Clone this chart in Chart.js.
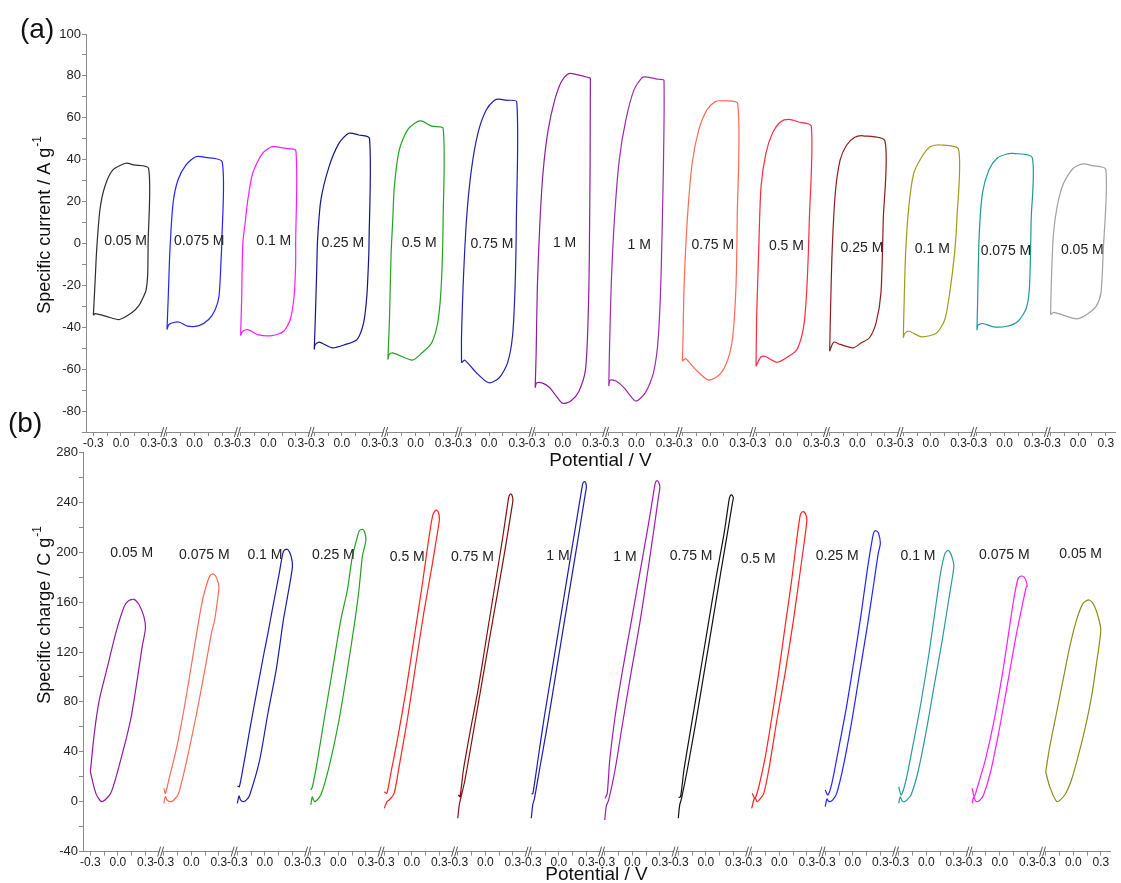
<!DOCTYPE html>
<html>
<head>
<meta charset="utf-8">
<script src="https://cdn.jsdelivr.net/npm/chart.js@4.4.1/dist/chart.umd.min.js"></script>
<style>
  html, body { margin: 0; padding: 0; background: #fff; overflow: hidden; }
  #wrap { position: relative; width: 1121px; height: 883px; }
  canvas { position: absolute; left: 0; }
  #cvA { top: 0; }
  #cvB { top: 440px; }
  .tag { position: absolute; font-family: "Liberation Sans", Arial, sans-serif; font-size: 28px; line-height: 28px; color: #111; }
</style>
</head>
<body>
<div id="wrap">
  <canvas id="cvA" width="1121" height="472"></canvas>
  <canvas id="cvB" width="1121" height="450"></canvas>
  <div class="tag" style="left:20px; top:15px;">(a)</div>
  <div class="tag" style="left:8px; top:409px;">(b)</div>
</div>
<script>
const FONT = '"Liberation Sans", Arial, sans-serif';

// concentration of each panel, left to right
const concLabels = ['0.05 M', '0.075 M', '0.1 M', '0.25 M', '0.5 M', '0.75 M', '1 M',
                    '1 M', '0.75 M', '0.5 M', '0.25 M', '0.1 M', '0.075 M', '0.05 M'];

// each panel covers -0.3..0.3 V, panels are laid side by side on a broken axis
const panelStep = 0.8;
const xTickSteps = [-0.3, -0.15, 0, 0.15, 0.3];

// (a) cyclic voltammograms: potential (V) and specific current (A/g)
const cvPotential = [
  [-0.30,-0.282,-0.264,-0.229,-0.176,-0.088,0.053,0.141,0.30,0.295,0.29,0.274,0.247,0.194,0.12,-0.017,-0.158,-0.229,-0.282,-0.30],
  [-0.30,-0.286,-0.268,-0.234,-0.181,-0.093,0.013,0.118,0.30,0.295,0.286,0.265,0.223,0.153,0.047,-0.076,-0.163,-0.216,-0.279,-0.30],
  [-0.30,-0.289,-0.276,-0.247,-0.222,-0.169,-0.063,0.043,0.186,0.30,0.298,0.298,0.281,0.239,0.168,0.043,-0.116,-0.222,-0.279,-0.30],
  [-0.30,-0.289,-0.273,-0.264,-0.228,-0.139,-0.032,0.075,0.182,0.30,0.295,0.289,0.271,0.236,0.164,0.04,-0.104,-0.246,-0.289,-0.30],
  [-0.30,-0.283,-0.265,-0.247,-0.23,-0.177,-0.088,0.018,0.071,0.177,0.30,0.30,0.283,0.247,0.177,0.071,-0.035,-0.247,-0.286,-0.30],
  [-0.30,-0.30,-0.283,-0.246,-0.193,-0.122,-0.032,0.057,0.11,0.182,0.30,0.296,0.282,0.254,0.2,0.11,-0.004,-0.139,-0.264,-0.30],
  [-0.30,-0.289,-0.276,-0.247,-0.212,-0.159,-0.088,-0.017,0.052,0.105,0.282,0.30,0.289,0.275,0.247,0.176,0.088,-0.001,-0.07,-0.141,-0.212,-0.282,-0.30],
  [-0.30,-0.293,-0.274,-0.239,-0.186,-0.115,-0.027,0.062,0.098,0.239,0.30,0.274,0.239,0.186,0.098,-0.009,-0.133,-0.221,-0.285,-0.30],
  [-0.30,-0.293,-0.282,-0.247,-0.194,-0.123,-0.035,0.053,0.123,0.30,0.295,0.282,0.247,0.194,0.106,-0.017,-0.158,-0.264,-0.30],
  [-0.30,-0.294,-0.272,-0.246,-0.193,-0.122,-0.032,0.057,0.164,0.30,0.279,0.253,0.218,0.146,0.057,-0.069,-0.193,-0.246,-0.30],
  [-0.30,-0.293,-0.274,-0.239,-0.186,-0.115,-0.027,0.062,0.30,0.282,0.257,0.204,0.133,0.045,-0.045,-0.186,-0.257,-0.30],
  [-0.30,-0.294,-0.275,-0.24,-0.187,-0.098,-0.009,0.097,0.30,0.282,0.257,0.204,0.151,0.062,-0.098,-0.24,-0.286,-0.30],
  [-0.30,-0.293,-0.276,-0.24,-0.17,-0.081,0.025,0.095,0.30,0.289,0.271,0.237,0.148,0.025,-0.117,-0.24,-0.29,-0.30],
  [-0.30,-0.293,-0.271,-0.229,-0.159,-0.053,0.052,0.15,0.30,0.271,0.247,0.194,0.088,-0.017,-0.265,-0.30]
];
const cvCurrent = [
  [-34.3,-18.9,-3.0,16.0,27.1,35.1,38.3,37.5,35.9,0,-15,-22,-25.2,-29.7,-33,-36.3,-34.8,-34,-33.5,-34.3],
  [-41.1,-25.2,-3.0,19.2,30.3,37.5,41.4,41.1,39.0,0,-9.3,-25.2,-31.6,-36.3,-39.2,-39.5,-37.6,-37.6,-38.7,-41.1],
  [-44.0,-26.8,0,11.3,20.8,33.5,43.0,46.2,45.4,44.3,0,-9.3,-25.2,-36.3,-41.9,-44.0,-43.5,-41.1,-42.0,-44.0],
  [-50.6,-36.3,-12.5,1.8,20.8,36.7,47.8,52.6,51.8,50.2,0,-9.3,-25.2,-37.9,-45.9,-48.2,-49.8,-47.1,-48.2,-50.6],
  [-55.4,-36.3,-4.6,11.3,27.1,44.6,54.1,58.1,58.4,56.0,55.0,11.3,-17.3,-36.3,-47.4,-52.2,-55.7,-52.2,-53,-55.4],
  [-57.0,-44.3,-20.5,11.3,35.1,52.6,63.7,68.4,68.9,68.4,67.6,11.3,-20.5,-44.3,-57.0,-64.1,-66.5,-61.7,-55.7,-57.0],
  [-68.9,-52.2,-20.5,11.3,35.1,54.1,68.4,77.1,80.8,81.1,79.2,78.8,-4.6,-36.3,-60.1,-70.5,-75.2,-76.3,-72.9,-68.9,-66.8,-66.5,-68.9],
  [-68.1,-52.2,-20.5,11.3,39.9,58.9,73.2,79.2,79.5,78.4,77.9,-4.6,-44.3,-61.7,-71.2,-75.2,-68.9,-65.7,-65.2,-68.1],
  [-56.2,-44.3,-20.5,11.3,38.3,54.1,63.7,67.6,68.1,66.9,11.3,-20.5,-44.3,-55.4,-62.5,-65.2,-60.1,-55.0,-56.2],
  [-58.6,-36.3,-4.6,27.1,43.0,52.6,58.1,59.2,58.0,56.0,11.3,-20.5,-39.5,-50.6,-53.8,-56.7,-54.1,-54.1,-58.6],
  [-51.4,-36.3,-4.6,24.0,39.9,47.0,50.7,51.4,49.0,11.3,-23.6,-37.9,-45.0,-47.4,-49.8,-48.2,-47.1,-51.4],
  [-45.0,-33.1,-4.6,17.6,33.5,41.4,46.2,47.0,45.0,11.3,-4.6,-23.6,-36.3,-42.7,-44.6,-41.9,-43.0,-45.0],
  [-41.4,-28.4,3.3,24.0,35.1,40.7,42.7,43.0,41.1,11.3,-20.5,-30.8,-37.1,-39.5,-39.8,-38.2,-39.1,-41.4],
  [-34.0,-20.5,3.3,17.6,28.8,35.9,38.0,37.2,35.4,-4.6,-23.6,-30.0,-34.0,-36.0,-32.9,-34.0]
];

// (b) charge loops: potential (V) and specific charge (C/g)
const qPotential = [
  [-0.30,-0.24,-0.175,-0.078,0.03,0.138,0.21,0.264,0.30,0.283,0.232,0.175,0.113,0.067,-0.024,-0.113,-0.203,-0.257,-0.30],
  [-0.30,-0.283,-0.265,-0.229,-0.19,-0.139,-0.05,0.057,0.146,0.218,0.253,0.289,0.30,0.276,0.242,0.207,0.182,0.129,0.081,0.021,-0.069,-0.158,-0.246,-0.283,-0.30],
  [-0.30,-0.281,-0.265,-0.235,-0.2,-0.165,-0.057,0.033,0.123,0.201,0.24,0.30,0.284,0.248,0.214,0.195,0.156,0.087,0.033,-0.01,-0.092,-0.165,-0.235,-0.278,-0.30],
  [-0.30,-0.284,-0.267,-0.253,-0.191,-0.101,0.007,0.098,0.181,0.224,0.261,0.30,0.286,0.261,0.226,0.207,0.152,0.098,0.026,-0.064,-0.156,-0.227,-0.282,-0.30],
  [-0.30,-0.272,-0.246,-0.193,-0.139,-0.05,0.039,0.129,0.218,0.289,0.30,0.287,0.264,0.228,0.182,0.11,0.021,-0.069,-0.158,-0.229,-0.272,-0.30],
  [-0.30,-0.284,-0.268,-0.222,-0.133,-0.045,0.043,0.132,0.22,0.284,0.30,0.289,0.273,0.258,0.249,0.185,0.096,0.008,-0.08,-0.169,-0.239,-0.276,-0.295],
  [-0.30,-0.284,-0.265,-0.211,-0.121,-0.032,0.057,0.147,0.225,0.289,0.30,0.293,0.282,0.263,0.254,0.2,0.11,0.021,-0.068,-0.158,-0.228,-0.282,-0.297],
  [-0.30,-0.283,-0.257,-0.188,-0.112,-0.015,0.081,0.165,0.234,0.285,0.30,0.288,0.273,0.254,0.242,0.177,0.081,-0.015,-0.112,-0.188,-0.246,-0.273,-0.297],
  [-0.30,-0.284,-0.264,-0.202,-0.111,-0.02,0.071,0.161,0.235,0.289,0.30,0.292,0.281,0.265,0.253,0.199,0.107,0.016,-0.074,-0.166,-0.238,-0.275,-0.297],
  [-0.30,-0.278,-0.262,-0.241,-0.209,-0.169,-0.115,-0.026,0.063,0.154,0.225,0.279,0.30,0.286,0.261,0.238,0.225,0.189,0.135,0.063,-0.008,-0.08,-0.152,-0.223,-0.266,-0.295],
  [-0.30,-0.282,-0.266,-0.247,-0.218,-0.175,-0.104,-0.015,0.074,0.163,0.234,0.277,0.30,0.279,0.252,0.231,0.217,0.163,0.092,0.02,-0.068,-0.157,-0.228,-0.271,-0.30],
  [-0.30,-0.284,-0.262,-0.238,-0.209,-0.166,-0.094,-0.005,0.084,0.174,0.244,0.291,0.30,0.273,0.244,0.22,0.198,0.155,0.102,0.03,-0.059,-0.148,-0.22,-0.273,-0.30],
  [-0.30,-0.284,-0.264,-0.242,-0.213,-0.177,-0.104,-0.013,0.079,0.169,0.242,0.289,0.30,0.273,0.242,0.213,0.194,0.151,0.096,0.024,-0.068,-0.158,-0.242,-0.278,-0.30],
  [-0.30,-0.256,-0.177,-0.093,-0.02,0.052,0.125,0.199,0.253,0.30,0.271,0.224,0.172,0.107,0.035,-0.038,-0.111,-0.183,-0.256,-0.30]
];
const qCharge = [
  [24.0,6.7,0,6.7,33.4,65.5,97.6,124.3,139.0,148.3,157.7,162.2,160.9,156.3,135.0,108.2,81.5,54.8,24.0],
  [-1.3,4.0,1.4,0,1.4,6.7,33.4,70.9,105.6,135.0,145.6,164.3,172.3,179.2,182.5,181.7,177.7,164.3,145.6,119.0,78.9,44.1,17.4,6.7,10.7],
  [-1.3,4.6,1.4,0,1.4,5.4,33.4,70.9,105.6,145.6,161.7,188.4,197,202.3,201.8,199.1,183.1,156.3,135.0,119.0,86.9,57.5,28.1,12.0,12.6],
  [-2.6,3.8,1,0,5.4,28.1,65.5,105.6,145.6,169.7,196.4,209.8,216.2,218.4,217,212.4,196.4,169.7,145.6,105.6,65.5,33.4,12.0,9.4],
  [-5.3,0,1.4,6.7,28.1,65.5,108.2,151.0,188.4,220.4,227.2,232.3,233.8,229.8,209.8,172.3,129.6,86.9,49.5,22.8,6.7,8.0],
  [-13.3,-2.6,2.7,17.4,54.8,92.2,129.6,167.0,204.4,233.8,241.8,245.9,246.7,245,241.8,209.8,169.7,129.6,89.5,54.8,25.4,4.0,5.4],
  [-13.3,-2.6,2.7,25.4,62.8,102.9,143.0,183.1,217.8,247.2,252.3,255.5,256.5,255.5,252.5,228.5,188.4,148.3,108.2,68.1,33.4,6.7,6.2],
  [-14.7,-3.4,1.4,25.4,60.1,102.9,143.0,183.1,217.8,244.5,252.3,255.9,257.3,256.3,252.5,223.1,183.1,143.0,102.9,68.1,33.4,6.7,2.7],
  [-13.3,-2.6,2.7,25.4,62.8,102.9,143.0,183.1,215.1,239.2,243.4,245,245.9,245,241.9,215.1,177.7,137.6,97.6,57.5,25.4,4.0,3.4],
  [-5.3,1.4,3,0,2.2,6.7,25.4,65.5,102.9,145.6,183.1,212.4,225.8,230.6,232.5,231.4,228.5,209.8,177.7,140.3,102.9,68.1,36.1,12.0,2.7,6.7],
  [-4.0,2.2,0.6,0,1.4,6.7,28.1,62.8,102.9,143.0,177.7,199.1,207.1,215.4,217.2,216.2,212.4,188.4,151.0,116.2,76.2,41.4,14.7,5.4,9.4],
  [-1.3,3.8,0.6,0,1.4,5.4,22.8,54.8,92.2,129.6,161.7,183.1,189.7,197.8,201.2,200.6,197.8,183.1,156.3,119.0,78.9,44.1,17.4,5.4,12.0],
  [-1.3,3.8,0.6,0,1.4,5.4,22.8,54.8,92.2,129.6,156.3,172.3,172.9,179.3,180.9,180.1,177.7,161.7,135.0,100.2,62.8,33.4,12.0,4.0,10.7],
  [24.0,12.0,0,5.4,17.4,36.1,57.5,84.2,110.9,137.6,148.3,157.7,161.7,159.0,145.6,124.3,97.6,70.9,44.1,24.0]
];

const cvColors = ['#2e2e2e', '#2323ff', '#ff1aff', '#14148c', '#22a022', '#2222a6', '#8e1c9e', '#9c2cae',
                  '#fa6a55', '#ff2a3c', '#8e1c1c', '#9c9c1c', '#1c9a96', '#a0a0a0'];
const qColors = ['#8e1c9e', '#f86a55', '#1c1ca8', '#22a022', '#ff2020', '#801010', '#1c1ca8', '#9c1cae',
                 '#111111', '#ff2020', '#2323ff', '#2a9a96', '#ff1aff', '#8c8c1c'];

// where the concentration text sits (offset from panel centre in V, height in axis units)
const cvLabelDx = [0.05, 0.05, 0.06, 0.01, 0.04, 0.03, 0.02, 0.03, 0.03, 0.03, 0.05, 0.015, 0.015, 0.045];
const cvLabelY = [1, 1, 1, 0.2, 0.2, -0.1, 0.2, -1, -0.6, -1.1, -2.4, -2.5, -3.5, -3];
const qLabelDx = [0.15, 0.14, 0, -0.055, -0.05, -0.14, -0.01, -0.08, -0.16, -0.23, -0.17, -0.09, 0.05, 0.08];
const qLabelY = [199.4, 197.8, 197.8, 197.8, 196.4, 196.4, 197, 196.2, 197, 194.6, 197.2, 197, 197.8, 198.6];

const breakAt = 0.465;

function loopDatasets(potentials, values, colors) {
    return potentials.map((vs, k) => ({
        data: vs.map((v, i) => ({ x: k * panelStep + v, y: values[k][i] })),
        borderColor: colors[k],
        borderWidth: 1.2,
        pointRadius: 0,
        showLine: true,
        tension: 0.25,
        fill: false
    }));
}

// text inside the panels, the "//" marks on the broken x axis and the y title with its superscript
const decorPlugin = {
    id: 'decor',
    afterDatasetsDraw(chart, args, opts) {
        const { ctx, scales: { x, y } } = chart;
        ctx.save();
        ctx.font = '14px ' + FONT;
        ctx.fillStyle = '#222';
        ctx.textAlign = 'center';
        ctx.textBaseline = 'middle';
        concLabels.forEach((txt, k) => {
            ctx.fillText(txt, x.getPixelForValue(k * panelStep + opts.dx[k]), y.getPixelForValue(opts.y[k]));
        });
        const yb = chart.chartArea.bottom;
        for (let k = 0; k < concLabels.length - 1; k++) {
            const xb = x.getPixelForValue(k * panelStep + breakAt);
            ctx.fillStyle = '#fff';
            ctx.fillRect(xb - 1, yb - 1.5, 3, 3);
            ctx.strokeStyle = '#555';
            ctx.lineWidth = 1;
            ctx.beginPath();
            ctx.moveTo(xb - 3, yb + 5); ctx.lineTo(xb, yb - 5);
            ctx.moveTo(xb, yb + 5); ctx.lineTo(xb + 3, yb - 5);
            ctx.stroke();
        }
        // y title, rotated, with a small raised "-1"
        ctx.translate(opts.titleX, opts.titleY);
        ctx.rotate(-Math.PI / 2);
        ctx.fillStyle = '#111';
        ctx.textAlign = 'left';
        ctx.font = '18px ' + FONT;
        const wMain = ctx.measureText(opts.title).width;
        ctx.font = '12px ' + FONT;
        const wSup = ctx.measureText(opts.sup).width;
        const start = -(wMain + wSup + 1) / 2;
        ctx.font = '18px ' + FONT;
        ctx.fillText(opts.title, start, 0);
        ctx.font = '12px ' + FONT;
        ctx.fillText(opts.sup, start + wMain + 1, -7);
        ctx.restore();
    }
};

function xAxis(height, titlePadBottom) {
    return {
        type: 'linear',
        min: -0.38,
        max: 10.8,
        afterBuildTicks: (scale) => {
            const ticks = [];
            for (let k = 0; k < concLabels.length; k++) {
                xTickSteps.forEach(t => ticks.push({ value: k * panelStep + t }));
            }
            scale.ticks = ticks;
        },
        afterFit: (scale) => { scale.height = height; },
        border: { color: '#8a8a8a' },
        grid: { drawOnChartArea: false, tickLength: 4, color: '#8a8a8a' },
        ticks: {
            autoSkip: false, maxRotation: 0, minRotation: 0, padding: 0,
            color: '#222', font: { family: FONT, size: 12 },
            callback: (value) => {
                const local = value - Math.round(value / panelStep) * panelStep;
                if (Math.abs(Math.abs(local) - 0.15) < 0.01) return '';
                return (Math.abs(local) < 1e-6 ? 0 : local).toFixed(1);
            }
        },
        title: { display: true, text: 'Potential / V', color: '#111', font: { family: FONT, size: 19 }, padding: { top: 0, bottom: titlePadBottom } }
    };
}

function yAxis(min, max, step, labelEvery, width) {
    return {
        min: min,
        max: max,
        afterFit: (scale) => { scale.width = width; },
        border: { color: '#8a8a8a' },
        grid: { drawOnChartArea: false, tickLength: 4, color: '#8a8a8a' },
        ticks: {
            stepSize: step, autoSkip: false, padding: 1,
            color: '#222', font: { family: FONT, size: 13 },
            callback: v => (v % labelEvery === 0 ? v : '')
        }
    };
}

Chart.defaults.animation = false;

new Chart(document.getElementById('cvA'), {
    type: 'scatter',
    data: { datasets: loopDatasets(cvPotential, cvCurrent, cvColors) },
    options: {
        responsive: false,
        layout: { padding: { top: 34, right: 6, bottom: 0, left: 0 } },
        plugins: {
            legend: { display: false }, tooltip: { enabled: false },
            decor: { dx: cvLabelDx, y: cvLabelY, title: 'Specific current / A g', sup: '-1', titleX: 45, titleY: 225 }
        },
        scales: {
            x: xAxis(40, 0),
            y: yAxis(-90, 100, 10, 20, 86)
        }
    },
    plugins: [decorPlugin]
});

new Chart(document.getElementById('cvB'), {
    type: 'scatter',
    data: { datasets: loopDatasets(qPotential, qCharge, qColors) },
    options: {
        responsive: false,
        layout: { padding: { top: 12.4, right: 11, bottom: 0, left: 0 } },
        plugins: {
            legend: { display: false }, tooltip: { enabled: false },
            decor: { dx: qLabelDx, y: qLabelY, title: 'Specific charge / C g', sup: '-1', titleX: 45, titleY: 175 }
        },
        scales: {
            x: xAxis(38.4, 4),
            y: yAxis(-40, 280, 20, 40, 83)
        }
    },
    plugins: [decorPlugin]
});
</script>
</body>
</html>
